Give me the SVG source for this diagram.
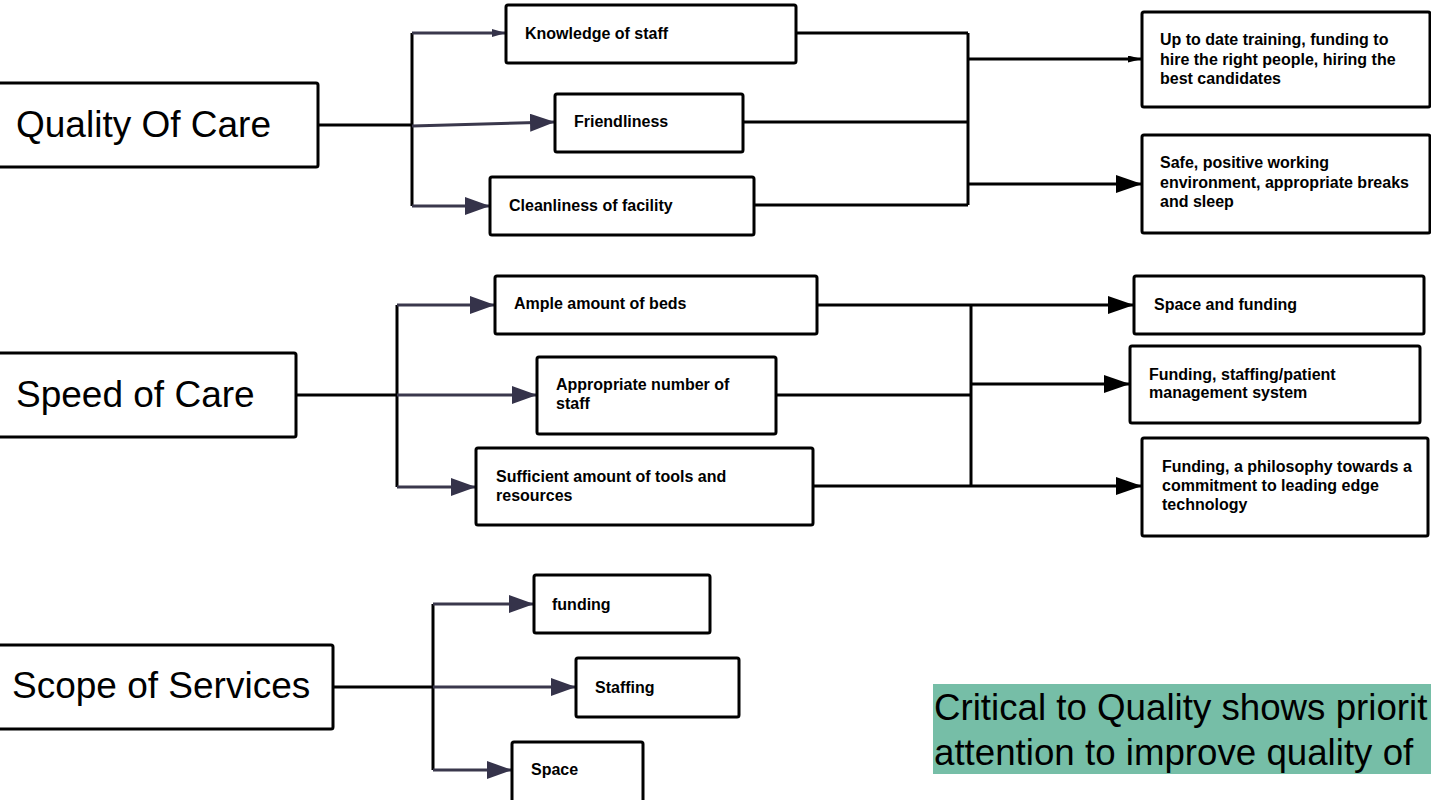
<svg xmlns="http://www.w3.org/2000/svg" width="1431" height="800" viewBox="0 0 1431 800">
<style>
.box{fill:#fff;stroke:#000;stroke-width:3}
.big{font-family:"Liberation Sans",Arial,sans-serif;font-size:37px;fill:#000}
.sm{font-family:"Liberation Sans",Arial,sans-serif;font-size:16px;font-weight:bold;fill:#000}
.k{fill:none;stroke:#000;stroke-width:3}
.d{fill:none;stroke:#3a384c;stroke-width:3}
.note{font-family:"Liberation Sans",Arial,sans-serif;font-size:36.7px;fill:#000}
</style>
<defs>
<marker id="aD" markerUnits="userSpaceOnUse" markerWidth="26" markerHeight="20" refX="25" refY="9" orient="auto"><path d="M0,0 L25,9 L0,18 z" fill="#35334a"/></marker>
<marker id="aDs" markerUnits="userSpaceOnUse" markerWidth="16" markerHeight="10" refX="14" refY="4" orient="auto"><path d="M0,0 L14,4 L0,8 z" fill="#35334a"/></marker>
<marker id="aK" markerUnits="userSpaceOnUse" markerWidth="28" markerHeight="20" refX="26" refY="9" orient="auto"><path d="M0,0 L26,9 L0,18 z" fill="#000"/></marker>
<marker id="aKs" markerUnits="userSpaceOnUse" markerWidth="16" markerHeight="10" refX="14" refY="3.5" orient="auto"><path d="M0,0 L14,3.5 L0,7 z" fill="#000"/></marker>
</defs>
<rect width="1431" height="800" fill="#fff"/>

<g id="connectors">
<!-- Quality of Care -->
<path class="k" d="M318,125 H412"/>
<path class="k" d="M412,33 V206"/>
<path class="d" d="M412,33 H506" marker-end="url(#aDs)"/>
<path class="d" d="M412,126 L555,122" marker-end="url(#aD)"/>
<path class="d" d="M412,206 H490" marker-end="url(#aD)"/>
<path class="k" d="M796,33 H968"/>
<path class="k" d="M743,122 H968"/>
<path class="k" d="M754,205 H968"/>
<path class="k" d="M968,33 V205"/>
<path class="k" d="M968,59 H1142" marker-end="url(#aKs)"/>
<path class="k" d="M968,184 H1142" marker-end="url(#aK)"/>
<!-- Speed of Care -->
<path class="k" d="M296,395 H397"/>
<path class="k" d="M397,305 V487"/>
<path class="d" d="M397,305 H495" marker-end="url(#aD)"/>
<path class="d" d="M397,395 H537" marker-end="url(#aD)"/>
<path class="d" d="M397,487 H476" marker-end="url(#aD)"/>
<path class="k" d="M817,305 H971"/>
<path class="k" d="M776,395 H971"/>
<path class="k" d="M813,486 H971"/>
<path class="k" d="M971,305 V486"/>
<path class="k" d="M971,305 H1134" marker-end="url(#aK)"/>
<path class="k" d="M971,384 H1130" marker-end="url(#aK)"/>
<path class="k" d="M971,486 H1142" marker-end="url(#aK)"/>
<!-- Scope of Services -->
<path class="k" d="M333,687 H433"/>
<path class="k" d="M433,604 V770"/>
<path class="d" d="M433,604 H534" marker-end="url(#aD)"/>
<path class="d" d="M433,687 H576" marker-end="url(#aD)"/>
<path class="d" d="M433,770 H512" marker-end="url(#aD)"/>
</g>

<g id="quality-of-care"><rect class="box" x="-5" y="83" width="323" height="84" rx="2"/><text class="big" x="16" y="137">Quality Of Care</text></g>
<g id="knowledge-of-staff"><rect class="box" x="506" y="5" width="290" height="58" rx="2"/><text class="sm" x="525" y="39">Knowledge of staff</text></g>
<g id="friendliness"><rect class="box" x="555" y="94" width="188" height="58" rx="2"/><text class="sm" x="574" y="127">Friendliness</text></g>
<g id="cleanliness"><rect class="box" x="490" y="177" width="264" height="58" rx="2"/><text class="sm" x="509" y="211">Cleanliness of facility</text></g>
<g id="training"><rect class="box" x="1142" y="12" width="288" height="95" rx="2"/><text class="sm" x="1160" y="45">Up to date training, funding to</text><text class="sm" x="1160" y="64.5">hire the right people, hiring the</text><text class="sm" x="1160" y="84">best candidates</text></g>
<g id="safe-environment"><rect class="box" x="1142" y="135" width="288" height="98" rx="2"/><text class="sm" x="1160" y="168">Safe, positive working</text><text class="sm" x="1160" y="188">environment, appropriate breaks</text><text class="sm" x="1160" y="207">and sleep</text></g>

<g id="speed-of-care"><rect class="box" x="-5" y="353" width="301" height="84" rx="2"/><text class="big" x="16" y="407">Speed of Care</text></g>
<g id="ample-beds"><rect class="box" x="495" y="276" width="322" height="58" rx="2"/><text class="sm" x="514" y="309">Ample amount of beds</text></g>
<g id="appropriate-staff"><rect class="box" x="537" y="357" width="239" height="77" rx="2"/><text class="sm" x="556" y="390">Appropriate number of</text><text class="sm" x="556" y="409">staff</text></g>
<g id="sufficient-tools"><rect class="box" x="476" y="448" width="337" height="77" rx="2"/><text class="sm" x="496" y="482">Sufficient amount of tools and</text><text class="sm" x="496" y="501">resources</text></g>
<g id="space-and-funding"><rect class="box" x="1134" y="276" width="290" height="58" rx="2"/><text class="sm" x="1154" y="310">Space and funding</text></g>
<g id="funding-staffing"><rect class="box" x="1130" y="346" width="290" height="77" rx="2"/><text class="sm" x="1149" y="380">Funding, staffing/patient</text><text class="sm" x="1149" y="398">management system</text></g>
<g id="funding-philosophy"><rect class="box" x="1142" y="438" width="286" height="98" rx="2"/><text class="sm" x="1162" y="472">Funding, a philosophy towards a</text><text class="sm" x="1162" y="491">commitment to leading edge</text><text class="sm" x="1162" y="510">technology</text></g>

<g id="scope-of-services"><rect class="box" x="-5" y="645" width="338" height="84" rx="2"/><text class="big" x="12" y="698">Scope of Services</text></g>
<g id="funding"><rect class="box" x="534" y="575" width="176" height="58" rx="2"/><text class="sm" x="552" y="610">funding</text></g>
<g id="staffing"><rect class="box" x="576" y="658" width="163" height="59" rx="2"/><text class="sm" x="595" y="693">Staffing</text></g>
<g id="space"><rect class="box" x="512" y="742" width="131" height="70" rx="2"/><text class="sm" x="531" y="775">Space</text></g>

<g id="note"><rect x="933" y="684" width="500" height="90" fill="#76bea7"/><text class="note" x="934" y="720">Critical to Quality shows priorit</text><text class="note" x="934" y="765">attention to improve quality of</text></g>
</svg>
